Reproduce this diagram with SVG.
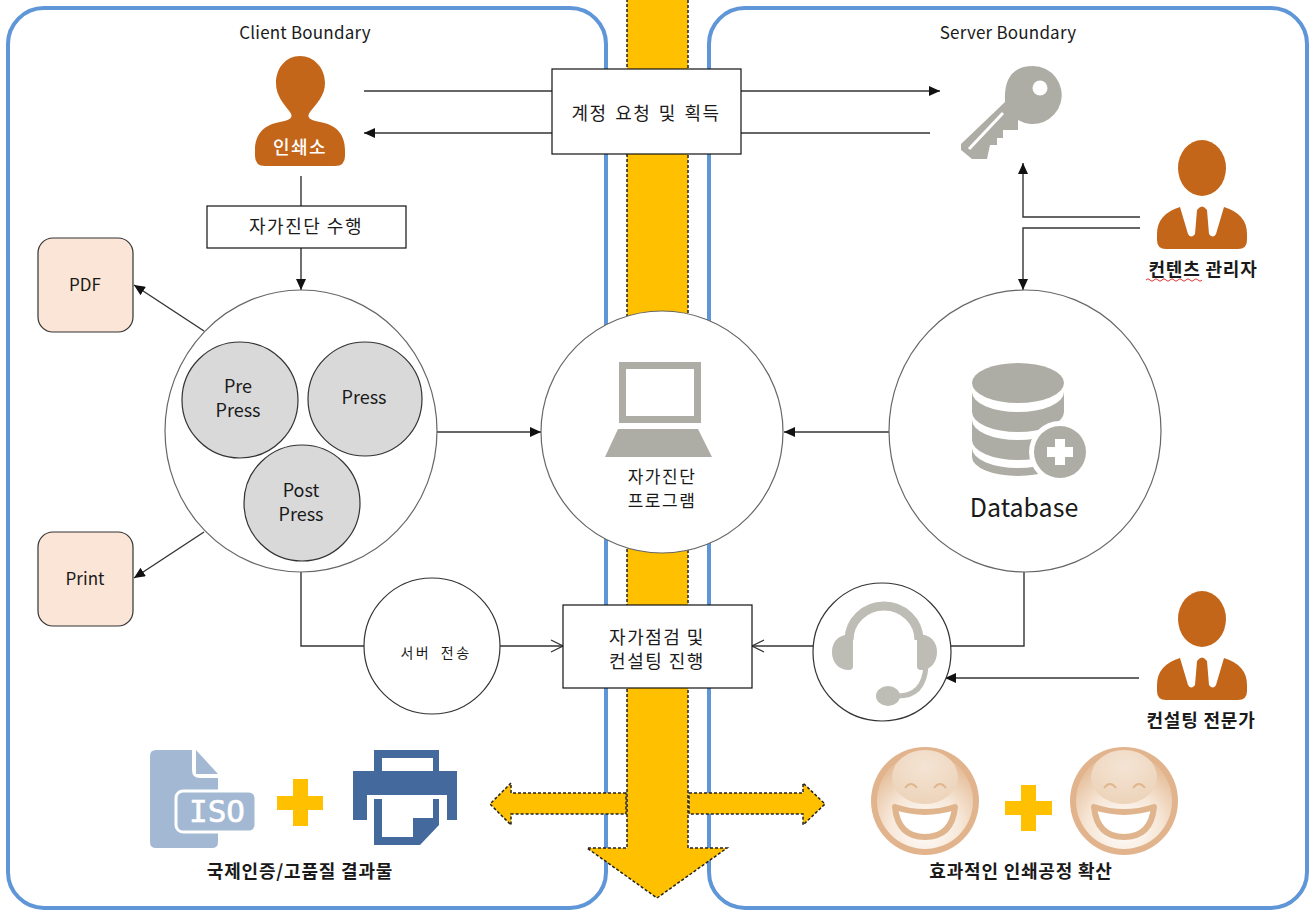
<svg xmlns="http://www.w3.org/2000/svg" width="1315" height="910" viewBox="0 0 1315 910">
<style>
text{font-family:"Noto Sans CJK KR","Noto Sans",sans-serif;fill:#1a1a1a;text-anchor:middle}
.bd{fill:#fff;stroke:#5f96d8;stroke-width:4}
.ya{fill:#ffc000;stroke:#222;stroke-width:1.5;stroke-dasharray:3 2}
.c{fill:none;stroke:#333;stroke-width:1.4}
.n{fill:#fff;stroke:#666;stroke-width:1.2}
.g{fill:#d9d9d9;stroke:#333;stroke-width:1.2}
.b{fill:#fff;stroke:#111;stroke-width:1.2}
.d{fill:#fbe5d6;stroke:#333;stroke-width:1.2}
.o{fill:#c4661a}
.k{fill:#aeada5}
.y{fill:#ffc000}
.t17{font-size:17px}.t18{font-size:18px}
.ko{font-size:18px;letter-spacing:1.5px}
.kb{font-size:18px;font-weight:700;letter-spacing:.8px}
.kp{font-size:17px;letter-spacing:1.5px}
</style>
<defs>
<marker id="a" markerWidth="12" markerHeight="10" refX="11" refY="5" orient="auto" markerUnits="userSpaceOnUse"><path d="M0 0L11 5L0 10z" fill="#111"/></marker>
<marker id="op" markerWidth="14" markerHeight="14" refX="13" refY="7" orient="auto" markerUnits="userSpaceOnUse"><path d="M1 1L13 7L1 13" fill="none" stroke="#333" stroke-width="1.3"/></marker>
<radialGradient id="sm" cx="50%" cy="78%" r="70%"><stop offset="0" stop-color="#fff"/><stop offset=".55" stop-color="#f6e6d6"/><stop offset="1" stop-color="#e6bf9c"/></radialGradient>
<radialGradient id="sh" cx="50%" cy="30%" r="75%"><stop offset="0" stop-color="#f4e4d4"/><stop offset="1" stop-color="#ecd2b8"/></radialGradient>
<g id="man"><ellipse cx="0" cy="0" rx="24" ry="28"/><path d="M-22 39L-14 66Q-11 71 -7 66L-5 42Q0 35 5 42L7 66Q11 71 14 66L22 39Q45 46 45 66V72Q45 81 36 81H-36Q-45 81 -45 72V66Q-45 46 -22 39z"/></g>
<g id="smile"><circle r="54" fill="#e2b48d"/><circle r="48" fill="url(#sm)"/><ellipse cy="-24" rx="33" ry="27" fill="url(#sh)"/><path d="M-20 -13Q-14 -21 -8 -13M9 -13Q15 -21 21 -13" fill="none" stroke="#e0b78f" stroke-width="2"/><path d="M-30 6Q0 16 30 6Q27 36 0 36Q-27 36 -30 6z" fill="#fff" stroke="#e0b48c" stroke-width="6" stroke-linejoin="round"/></g>
</defs>

<g id="boundaries">
<rect class="bd" x="8" y="8" width="598" height="900" rx="36"/>
<rect class="bd" x="709" y="8" width="598" height="900" rx="36"/>
<text class="t17" x="305" y="39" style="letter-spacing:.2px">Client Boundary</text>
<text class="t17" x="1008" y="39" style="letter-spacing:.2px">Server Boundary</text>
</g>

<g id="flow-arrows">
<path class="ya" d="M627 -4H688V848H727L657 898L587 848H627z"/>
<path class="ya" d="M626 793H511V783L490 804L511 825V814H626z"/>
<path class="ya" d="M689 793H803V783L825 804L803 825V814H689z"/>
</g>

<g id="connectors">
<path class="c" d="M364 91H552"/>
<path class="c" d="M741 91H940" marker-end="url(#a)"/>
<path class="c" d="M930 133H741"/>
<path class="c" d="M552 133H364" marker-end="url(#a)"/>
<path class="c" d="M301 176V206"/>
<path class="c" d="M301 248V290" marker-end="url(#a)"/>
<path class="c" d="M204 331L134 285" marker-end="url(#a)"/>
<path class="c" d="M204 532L134 578" marker-end="url(#a)"/>
<path class="c" d="M437 432H541" marker-end="url(#a)"/>
<path class="c" d="M889 432H784" marker-end="url(#a)"/>
<path class="c" d="M1140 217H1023V163" marker-end="url(#a)"/>
<path class="c" d="M1140 228H1023V290" marker-end="url(#a)"/>
<path class="c" d="M301 572V646H364"/>
<path class="c" d="M500 646H563" marker-end="url(#op)"/>
<path class="c" d="M1024 572V646H951"/>
<path class="c" d="M813 646H752" marker-end="url(#op)"/>
<path class="c" d="M1139 678H945" marker-end="url(#a)"/>
</g>

<g id="node-account"><rect class="b" x="552" y="69" width="189" height="85"/><text class="ko" x="646" y="120" style="word-spacing:2px">계정 요청 및 획득</text></g>

<g id="node-printer-shop">
<path class="o" d="M300 56C314 56 325 68 325 83C325 96 316 104 310 112C306 118 310 120 320 122C338 125 345 136 345 150V156Q345 166 335 166H265Q255 166 255 156V150C255 136 262 125 280 122C290 120 294 118 290 112C284 104 276 96 276 83C276 68 286 56 300 56z"/>
<text x="300" y="154" style="font-size:18px;letter-spacing:1.5px;fill:#fff;font-weight:500">인쇄소</text>
</g>

<g id="node-selfcheck"><rect class="b" x="207" y="206" width="199" height="42"/><text class="ko" x="306" y="233">자가진단 수행</text></g>

<g id="node-pdf"><rect class="d" x="38" y="238" width="95" height="94" rx="15"/><text class="t17" x="85" y="291">PDF</text></g>
<g id="node-print"><rect class="d" x="38" y="532" width="95" height="94" rx="15"/><text class="t17" x="85" y="585">Print</text></g>

<g id="node-process">
<ellipse class="n" cx="301" cy="431" rx="136" ry="141"/>
<circle class="g" cx="240" cy="400" r="58"/><text class="t18" x="238" y="393">Pre</text><text class="t18" x="238" y="417">Press</text>
<circle class="g" cx="365" cy="399" r="57"/><text class="t18" x="364" y="404">Press</text>
<circle class="g" cx="302" cy="503" r="58"/><text class="t18" x="301" y="497">Post</text><text class="t18" x="301" y="521">Press</text>
</g>

<g id="node-program">
<circle class="n" cx="662" cy="432" r="121"/>
<path class="k" fill-rule="evenodd" d="M619 362H701V423H619zM626 369V416H694V369z"/>
<path class="k" d="M618 429H698L712 457H605z"/>
<text class="kp" x="662" y="483">자가진단</text><text class="kp" x="662" y="507">프로그램</text>
</g>

<g id="node-database">
<ellipse class="n" cx="1025" cy="431" rx="136" ry="141"/>
<path class="k" d="M972 392A46 20 0 0 0 1064 392V412A46 20 0 0 1 972 412z"/>
<path class="k" d="M972 420A46 20 0 0 0 1064 420V440A46 20 0 0 1 972 440z"/>
<path class="k" d="M972 448A46 20 0 0 0 1064 448V457A46 19 0 0 1 972 457z"/>
<ellipse class="k" cx="1018" cy="383" rx="46" ry="20"/>
<circle cx="1060" cy="452" r="31" fill="#fff"/>
<circle class="k" cx="1060" cy="452" r="26"/>
<path fill="#fff" d="M1055 439H1065V447H1073V457H1065V465H1055V457H1047V447H1055z"/>
<text x="1024" y="517" font-size="25">Database</text>
</g>

<g id="node-key">
<path class="k" d="M1033 66A29 29 0 1 1 1018 120V130H1003V132V138H997V145H990L987 159H972L961 150V144L1005 102Q1003 66 1033 66z"/>
<circle cx="1040" cy="88" r="7.500" fill="#fff"/>
<path d="M1003 113L969 149" stroke="#fff" stroke-width="3"/>
</g>

<g id="node-manager"><use href="#man" x="1202" y="168" class="o"/><text class="kb" x="1203" y="276">컨텐츠 관리자</text><path d="M1146 280q2-2.500 4 0t4 0t4 0t4 0t4 0t4 0t4 0t4 0t4 0t4 0t4 0t4 0t4 0t4 0" fill="none" stroke="#d33" stroke-width="1"/></g>

<g id="node-send"><circle class="n" cx="432" cy="646" r="68" style="stroke:#333"/><text x="436" y="658" style="font-size:14px;letter-spacing:2.500px;word-spacing:4px">서버 전송</text></g>

<g id="node-consult"><rect class="b" x="563" y="605" width="189" height="83"/><text class="ko" x="657" y="644">자가점검 및</text><text class="ko" x="657" y="668">컨설팅 진행</text></g>

<g id="node-headset">
<circle class="n" cx="882" cy="652" r="69" style="stroke:#333"/>
<path d="M849 640A35 34 0 0 1 919 640" fill="none" stroke="#bdbcb5" stroke-width="9"/>
<path fill="#bdbcb5" d="M853 634V666Q853 670 849 670C838 670 832 662 832 652C832 642 838 634 853 634z"/>
<path fill="#bdbcb5" d="M917 634V666Q917 670 921 670C931 670 937 662 937 652C937 642 931 634 917 634z"/>
<path d="M926 666Q924 696 898 696" fill="none" stroke="#bdbcb5" stroke-width="5"/>
<ellipse cx="888" cy="696" rx="12" ry="10" fill="#bdbcb5"/>
</g>

<g id="node-expert"><use href="#man" x="1202" y="619" class="o"/><text class="kb" x="1201" y="727">컨설팅 전문가</text></g>

<g id="result-left">
<path fill="#a3b8d3" d="M156 750H192V770Q192 778 200 778H218V842Q218 848 212 848H156Q150 848 150 842V756Q150 750 156 750z"/>
<path fill="#a3b8d3" d="M196 750L218 774H196z"/>
<rect x="176" y="791" width="80" height="41" rx="7" fill="#a3b8d3" stroke="#fff" stroke-width="3"/>
<text x="217" y="822" font-size="31" style="font-family:'DejaVu Sans Mono',monospace;fill:#fff;stroke:#fff;stroke-width:.6">ISO</text>
<path class="y" d="M293 779H308V796H323V810H308V826H293V810H277V796H293z"/>
<path fill="#44699c" d="M374 750H439V771H457V820H353V771H374z"/>
<rect x="382" y="758" width="51" height="13" fill="#fff"/>
<rect x="367" y="795" width="80" height="26" fill="#fff"/>
<path fill="#44699c" d="M374 799H439V825L420 845H374z"/>
<path fill="#fff" d="M382 799H433V818H413V837H382z"/>
<text class="kb" x="300" y="878">국제인증/고품질 결과물</text>
</g>

<g id="result-right">
<use href="#smile" x="925" y="801"/>
<path class="y" d="M1021 785H1036V801H1052V815H1036V831H1021V815H1005V801H1021z"/>
<use href="#smile" x="1124" y="801"/>
<text class="kb" x="1021" y="878">효과적인 인쇄공정 확산</text>
</g>
</svg>
